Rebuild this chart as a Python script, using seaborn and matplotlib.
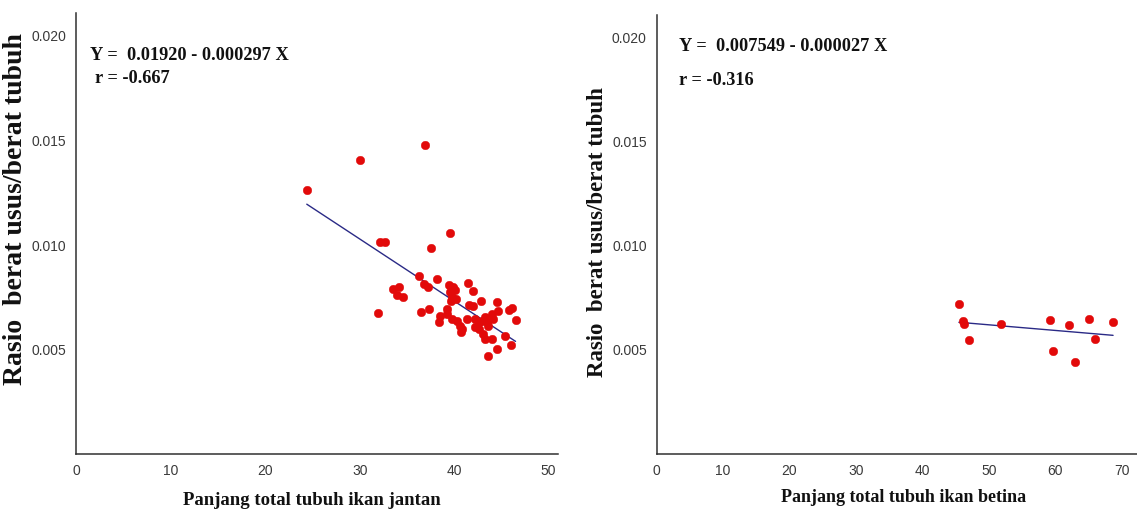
import numpy as np
import pandas as pd
import matplotlib
matplotlib.use("Agg")
import matplotlib.pyplot as plt
import seaborn as sns

# ---------------- data ----------------
male_length = [24.4, 30.0, 36.9, 32.1, 32.7, 37.5, 39.6, 36.3, 38.2, 36.8,
               37.2, 33.5, 34.2, 33.9, 34.6, 31.9, 36.5, 37.3, 41.5, 42.05,
               42.8, 39.5, 39.9, 39.6, 40.1, 39.8, 40.2, 39.7, 41.6, 42.0,
               44.5, 44.6, 45.8, 46.1, 46.5, 38.5, 38.4, 39.2, 39.2, 39.8,
               40.3, 40.6, 40.7, 40.8, 41.4, 42.2, 42.6, 42.9, 43.3, 43.5,
               43.6, 44.0, 44.1, 42.2, 42.6, 43.1, 43.3, 44.0, 43.6, 44.5,
               45.4, 46.0]
male_ratio = [0.01264, 0.01408, 0.01480, 0.01016, 0.01016, 0.00984, 0.01056, 0.00854, 0.00835, 0.00813,
              0.00800, 0.00789, 0.00799, 0.00760, 0.00750, 0.00673, 0.00678, 0.00695, 0.00818, 0.00778,
              0.00733, 0.00810, 0.00800, 0.00775, 0.00785, 0.00750, 0.00740, 0.00730, 0.00714, 0.00710,
              0.00726, 0.00686, 0.00690, 0.00697, 0.00643, 0.00662, 0.00630, 0.00694, 0.00670, 0.00646,
              0.00638, 0.00614, 0.00583, 0.00599, 0.00646, 0.00646, 0.00630, 0.00638, 0.00654, 0.00630,
              0.00614, 0.00670, 0.00646, 0.00607, 0.00600, 0.00575, 0.00551, 0.00551, 0.00471, 0.00503,
              0.00567, 0.00522]

female_length = [45.5, 46.1, 46.3, 47.0, 51.8, 59.2, 59.6, 62.1, 62.9, 65.1, 66.0, 68.7]
female_ratio = [0.00720, 0.00640, 0.00623, 0.00548, 0.00625, 0.00644, 0.00492, 0.00618,
                0.00442, 0.00650, 0.00554, 0.00633]

male_intercept, male_slope = 0.01920, -0.000297
female_intercept, female_slope = 0.007549, -0.000027

male_eq = "Y =  0.01920 - 0.000297 X"
male_r = "r = -0.667"
female_eq = "Y =  0.007549 - 0.000027 X"
female_r = "r = -0.316"

y_label = "Rasio  berat usus/berat tubuh"
male_xlabel = "Panjang total tubuh ikan jantan"
female_xlabel = "Panjang total tubuh ikan betina"

y_ticks = [0.005, 0.010, 0.015, 0.020]
male_xticks = [0, 10, 20, 30, 40, 50]
female_xticks = [0, 10, 20, 30, 40, 50, 60, 70]

# ---------------- style ----------------
sns.set_style("white")
plt.rcParams['font.family'] = ['Liberation Sans', 'DejaVu Sans']

fig = plt.figure(figsize=(11.37, 5.14), dpi=100)
ax1 = fig.add_axes([0.0671, 0.1167, 0.4237, 0.858])
ax2 = fig.add_axes([0.5774, 0.1167, 0.4226, 0.854])

dot_color = "#e20a0a"
line_color = "#2a2a86"
serif = ['Liberation Serif', 'DejaVu Serif']


def panel(ax, xs, ys, b0, b1, xlim, ylim, xticks, eq, rtxt, eqpos, rpos, xlabel, xl_fs, yl_fs):
    df = pd.DataFrame({"x": xs, "y": ys})
    sns.scatterplot(data=df, x="x", y="y", ax=ax, color=dot_color, s=38,
                    edgecolor=dot_color, linewidth=0.3, zorder=3)
    xr = np.array([min(xs), max(xs)])
    line_df = pd.DataFrame({"x": xr, "y": b0 + b1 * xr})
    sns.lineplot(data=line_df, x="x", y="y", ax=ax, color=line_color, lw=1.0, zorder=2)
    ax.set_xlim(*xlim)
    ax.set_ylim(*ylim)
    ax.set_xticks(xticks)
    ax.set_yticks(y_ticks)
    ax.set_yticklabels([f"{t:.3f}" for t in y_ticks])
    for s in ["top", "right"]:
        ax.spines[s].set_visible(False)
    for s in ["left", "bottom"]:
        ax.spines[s].set_color("#303030")
        ax.spines[s].set_linewidth(1.1)
    ax.tick_params(axis="both", direction="out", length=4, width=1, color="#303030",
                   labelsize=10, labelcolor="#3a3a3a", pad=3)
    ax.set_xlabel(xlabel, family=serif, fontweight="bold", fontsize=xl_fs, color="#111111")
    ax.set_ylabel(y_label, family=serif, fontweight="bold", fontsize=yl_fs, color="#111111")
    ax.text(eqpos[0], eqpos[1], eq, family=serif, fontweight="bold", fontsize=13.2,
            va="center", ha="left", color="#111111")
    ax.text(rpos[0], rpos[1], rtxt, family=serif, fontweight="bold", fontsize=13.2,
            va="center", ha="left", color="#111111")


panel(ax1, male_length, male_ratio, male_intercept, male_slope, (0, 51), (0, 0.0211),
      male_xticks, male_eq, male_r, (1.45, 0.01905), (2.0, 0.01799),
      male_xlabel, 13.5, 20)
panel(ax2, female_length, female_ratio, female_intercept, female_slope, (0, 72.3), (0, 0.02106),
      female_xticks, female_eq, female_r, (3.4, 0.01953), (3.4, 0.01794),
      female_xlabel, 13, 16.5)

ax1.yaxis.set_label_coords(-0.100, 0.556)
ax1.xaxis.set_label_coords(0.489, -0.086)
ax2.yaxis.set_label_coords(-0.101, 0.506)
ax2.xaxis.set_label_coords(0.515, -0.080)

fig.savefig("out.png", dpi=100)
